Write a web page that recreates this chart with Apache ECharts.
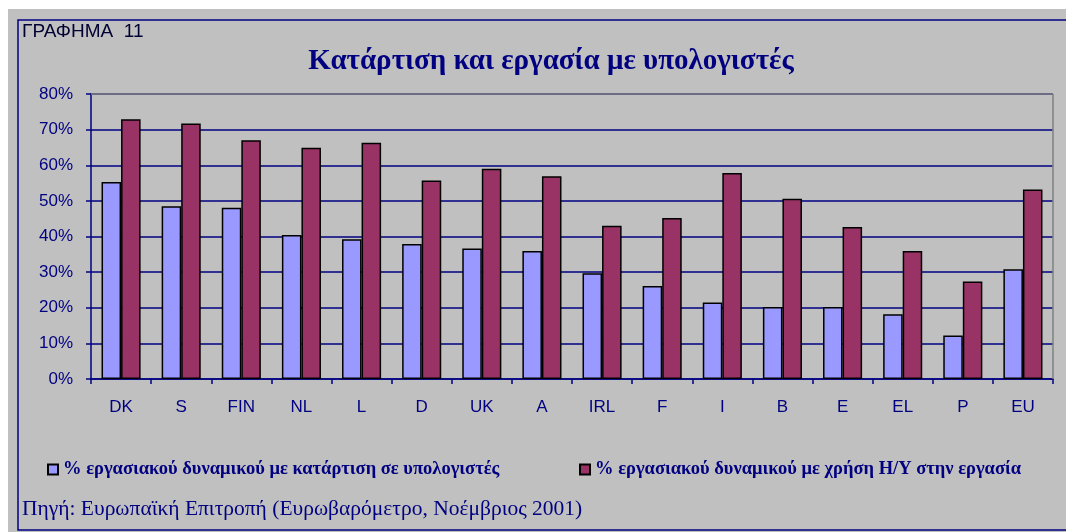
<!DOCTYPE html>
<html>
<head>
<meta charset="utf-8">
<script src="https://cdn.jsdelivr.net/npm/echarts@6/dist/echarts.min.js"></script>
<style>
  html, body { margin: 0; padding: 0; background: #fff; }
  #wrap { width: 1066px; height: 532px; }
</style>
</head>
<body>
<div id="wrap"></div>
<script>
// data
var countries = ['DK', 'S', 'FIN', 'NL', 'L', 'D', 'UK', 'A', 'IRL', 'F', 'I', 'B', 'E', 'EL', 'P', 'EU'];
var trainingPct = [55.3, 48.5, 48.1, 40.4, 39.2, 37.9, 36.6, 35.9, 29.7, 26.1, 21.5, 20.2, 20.2, 18.2, 12.2, 30.8];
var pcAtWorkPct = [72.9, 71.7, 67.0, 64.9, 66.3, 55.7, 59.0, 56.9, 43.0, 45.2, 57.8, 50.6, 42.7, 35.9, 27.4, 53.2];
var yTicks = [0, 10, 20, 30, 40, 50, 60, 70, 80];

var name1 = '% εργασιακού δυναμικού με κατάρτιση σε υπολογιστές';
var name2 = '% εργασιακού δυναμικού με χρήση Η/Υ στην εργασία';

var navy = '#000080';

var myChart = echarts.init(document.getElementById('wrap'));

var legendBase = {
    icon: 'rect',
    itemWidth: 10,
    itemHeight: 10,
    itemGap: 7,
    top: 455,
    textStyle: {
        fontFamily: 'Liberation Serif',
        fontWeight: 'bold',
        fontSize: 18.5,
        color: navy
    }
};

var option = {
    backgroundColor: '#fff',
    animation: false,
    graphic: [
        { type: 'rect', z: -10, shape: { x: 8, y: 9, width: 1060, height: 525 }, style: { fill: '#C0C0C0' } },
        { type: 'rect', z: -9, shape: { x: 18, y: 20, width: 1060, height: 510 }, style: { fill: 'none', stroke: navy, lineWidth: 1.5 } },
        { type: 'line', z: 1, shape: { x1: 91, y1: 94, x2: 1053, y2: 94 }, style: { stroke: '#808080', lineWidth: 1.5 } },
        { type: 'line', z: 1, shape: { x1: 1053, y1: 94, x2: 1053, y2: 379 }, style: { stroke: '#808080', lineWidth: 1.5 } },
        { type: 'text', left: 22, top: 22, style: { text: 'ΓΡΑΦΗΜΑ  11', fontFamily: 'Liberation Sans', fontSize: 19, fill: '#000033' } },
        { type: 'text', left: 22, top: 498, style: { text: 'Πηγή: Ευρωπαϊκή Επιτροπή (Ευρωβαρόμετρο, Νοέμβριος 2001)', fontFamily: 'Liberation Serif', fontSize: 21.5, fill: navy } }
    ],
    title: {
        text: 'Κατάρτιση και εργασία με υπολογιστές',
        left: 546,
        top: 42,
        textAlign: 'center',
        textStyle: {
            fontFamily: 'Liberation Serif',
            fontWeight: 'bold',
            fontSize: 29,
            color: navy
        }
    },
    legend: [
        Object.assign({}, legendBase, { data: [name1], left: 42 }),
        Object.assign({}, legendBase, { data: [name2], left: 574 })
    ],
    grid: { left: 91, right: 13, top: 94, bottom: 153 },
    xAxis: {
        type: 'category',
        data: countries,
        axisLine: { lineStyle: { color: navy, width: 1.5 } },
        axisTick: { show: true, length: 5, lineStyle: { color: navy, width: 1.5 } },
        axisLabel: { margin: 20, fontFamily: 'Liberation Sans', fontSize: 17, color: navy }
    },
    yAxis: {
        type: 'value',
        min: 0,
        max: 80,
        interval: 10,
        axisLine: { show: true, lineStyle: { color: navy, width: 1.5 } },
        axisTick: { show: true, length: 5, lineStyle: { color: navy, width: 1.5 } },
        axisLabel: {
            margin: 18,
            fontFamily: 'Liberation Sans',
            fontSize: 17,
            color: navy,
            formatter: function (v) { return yTicks.indexOf(v) >= 0 ? v + '%' : ''; }
        },
        splitLine: { show: true, lineStyle: { color: navy, width: 1.5 } }
    },
    series: [
        {
            name: name1,
            type: 'bar',
            data: trainingPct,
            barGap: '0%',
            barCategoryGap: '35%',
            itemStyle: { color: '#9999FF', borderColor: '#000', borderWidth: 1.5 }
        },
        {
            name: name2,
            type: 'bar',
            data: pcAtWorkPct,
            itemStyle: { color: '#993366', borderColor: '#000', borderWidth: 1.5 }
        }
    ]
};

myChart.setOption(option);
</script>
</body>
</html>
